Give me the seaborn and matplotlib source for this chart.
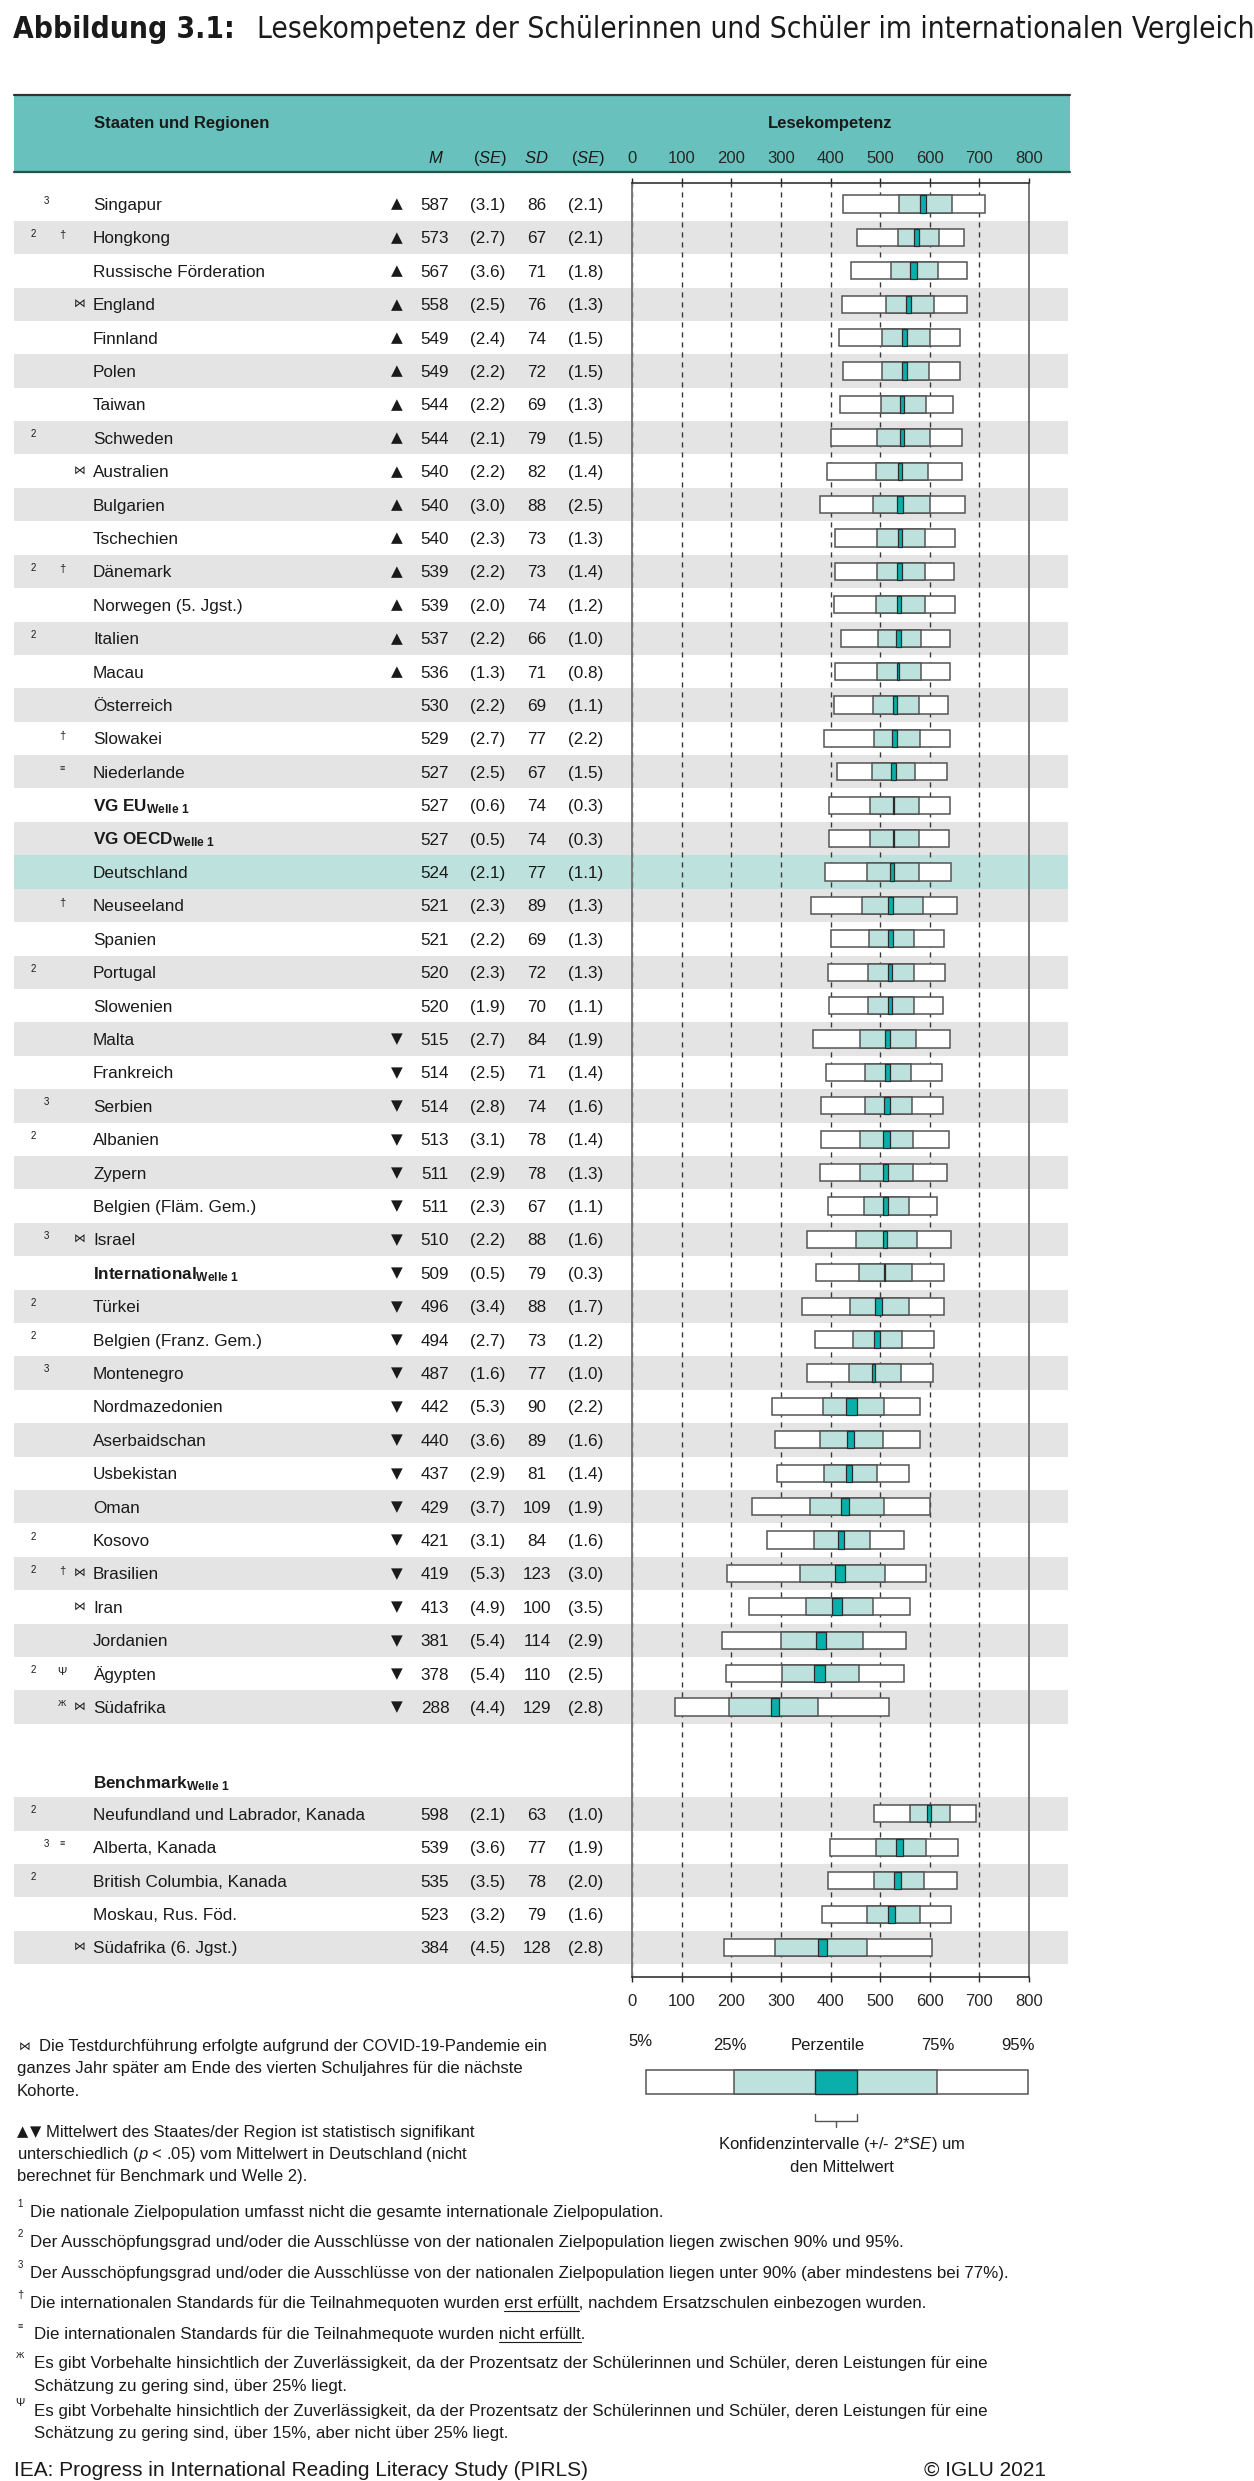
import numpy as np
import pandas as pd
import matplotlib
matplotlib.use("Agg")
import matplotlib.pyplot as plt
import seaborn as sns
from matplotlib import font_manager
from matplotlib.font_manager import FontProperties
from matplotlib.patches import Rectangle

# --- Daten: Staaten und Regionen (Welle 1) --- #
laender = ["Singapur", "Hongkong", "Russische Förderation", "England", "Finnland",
           "Polen", "Taiwan", "Schweden", "Australien", "Bulgarien", "Tschechien",
           "Dänemark", "Norwegen (5. Jgst.)", "Italien", "Macau", "Österreich",
           "Slowakei", "Niederlande", "VG EU", "VG OECD", "Deutschland",
           "Neuseeland", "Spanien", "Portugal", "Slowenien", "Malta", "Frankreich",
           "Serbien", "Albanien", "Zypern", "Belgien (Fläm. Gem.)", "Israel",
           "International", "Türkei", "Belgien (Franz. Gem.)", "Montenegro",
           "Nordmazedonien", "Aserbaidschan", "Usbekistan", "Oman", "Kosovo",
           "Brasilien", "Iran", "Jordanien", "Ägypten", "Südafrika"]
mittel = [587, 573, 567, 558, 549, 549, 544, 544, 540, 540, 540, 539, 539, 537, 536,
          530, 529, 527, 527, 527, 524, 521, 521, 520, 520, 515, 514, 514, 513, 511,
          511, 510, 509, 496, 494, 487, 442, 440, 437, 429, 421, 419, 413, 381, 378, 288]
se_m = [3.1, 2.7, 3.6, 2.5, 2.4, 2.2, 2.2, 2.1, 2.2, 3.0, 2.3, 2.2, 2.0, 2.2, 1.3,
        2.2, 2.7, 2.5, 0.6, 0.5, 2.1, 2.3, 2.2, 2.3, 1.9, 2.7, 2.5, 2.8, 3.1, 2.9,
        2.3, 2.2, 0.5, 3.4, 2.7, 1.6, 5.3, 3.6, 2.9, 3.7, 3.1, 5.3, 4.9, 5.4, 5.4, 4.4]
sd = [86, 67, 71, 76, 74, 72, 69, 79, 82, 88, 73, 73, 74, 66, 71, 69, 77, 67, 74, 74,
      77, 89, 69, 72, 70, 84, 71, 74, 78, 78, 67, 88, 79, 88, 73, 77, 90, 89, 81, 109,
      84, 123, 100, 114, 110, 129]
se_sd = [2.1, 2.1, 1.8, 1.3, 1.5, 1.5, 1.3, 1.5, 1.4, 2.5, 1.3, 1.4, 1.2, 1.0, 0.8,
         1.1, 2.2, 1.5, 0.3, 0.3, 1.1, 1.3, 1.3, 1.3, 1.1, 1.9, 1.4, 1.6, 1.4, 1.3,
         1.1, 1.6, 0.3, 1.7, 1.2, 1.0, 2.2, 1.6, 1.4, 1.9, 1.6, 3.0, 3.5, 2.9, 2.5, 2.8]
p5 = [426, 454, 441, 424, 417, 426, 420, 402, 393, 379, 409, 409, 408, 421, 409, 407,
      386, 413, 397, 397, 389, 360, 402, 394, 396, 364, 391, 381, 381, 378, 395, 352,
      370, 342, 368, 352, 282, 288, 292, 241, 272, 192, 235, 182, 190, 87]
p25 = [539, 536, 522, 512, 504, 504, 501, 493, 491, 486, 493, 493, 492, 495, 493, 486,
       487, 484, 480, 479, 474, 463, 477, 475, 475, 460, 469, 470, 460, 460, 467, 452,
       458, 440, 446, 438, 385, 378, 387, 358, 366, 338, 350, 301, 303, 195]
p75 = [645, 618, 616, 609, 601, 599, 592, 600, 596, 600, 591, 590, 590, 583, 583, 578,
       580, 571, 578, 578, 578, 586, 569, 569, 568, 573, 563, 565, 567, 566, 558, 574,
       564, 559, 545, 542, 507, 506, 493, 507, 479, 509, 485, 465, 457, 374]
p95 = [711, 670, 676, 676, 661, 661, 647, 664, 664, 672, 651, 649, 651, 640, 641, 636,
       640, 634, 640, 639, 642, 655, 628, 630, 627, 641, 624, 626, 638, 634, 614, 643,
       629, 628, 608, 606, 580, 580, 559, 600, 549, 592, 561, 553, 549, 517]
signifikanz = ["▲"] * 15 + [""] * 10 + ["▼"] * 21
fussnote_zahl = ["3", "2", "", "", "", "", "", "2", "", "", "", "2", "", "2", "", "",
                 "", "", "", "", "", "", "", "2", "", "", "", "3", "2", "", "", "3",
                 "", "2", "2", "3", "", "", "", "", "2", "2", "", "", "2", ""]
fussnote_zeichen = ["", "†", "", "", "", "", "", "", "", "", "", "†", "", "", "", "",
                    "†", "≡", "", "", "", "†", "", "", "", "", "", "", "", "", "", "",
                    "", "", "", "", "", "", "", "", "", "†", "", "", "Ψ", "Ж"]
covid = [3, 8, 31, 41, 42, 45]  # Zeilen mit ⋈
welle1 = ["VG EU", "VG OECD", "International"]

# --- Benchmark-Teilnehmer --- #
bench = ["Neufundland und Labrador, Kanada", "Alberta, Kanada",
         "British Columbia, Kanada", "Moskau, Rus. Föd.", "Südafrika (6. Jgst.)"]
bench_m = [598, 539, 535, 523, 384]
bench_se = [2.1, 3.6, 3.5, 3.2, 4.5]
bench_sd = [63, 77, 78, 79, 128]
bench_se_sd = [1.0, 1.9, 2.0, 1.6, 2.8]
bench_p5 = [487, 399, 395, 382, 185]
bench_p25 = [560, 491, 487, 473, 288]
bench_p75 = [641, 593, 588, 580, 474]
bench_p95 = [694, 656, 654, 642, 604]
bench_zahl = ["2", "3", "2", "", ""]
bench_zeichen = ["", "≡", "", "", ""]
bench_covid = [4]

achse = list(range(0, 801, 100))

# --- Tabelle zusammenbauen --- #
df = pd.DataFrame({
    "name": laender + bench,
    "m": mittel + bench_m, "se": se_m + bench_se,
    "sd": sd + bench_sd, "se_sd": se_sd + bench_se_sd,
    "p5": p5 + bench_p5, "p25": p25 + bench_p25,
    "p75": p75 + bench_p75, "p95": p95 + bench_p95,
    "sig": signifikanz + [""] * len(bench),
    "zahl": fussnote_zahl + bench_zahl,
    "zeichen": fussnote_zeichen + bench_zeichen,
})
df["row"] = list(np.arange(len(laender))) + list(48.2 + np.arange(len(bench)))
df["covid"] = [i in covid for i in range(len(laender))] + \
    [k in bench_covid for k in range(len(bench))]
df["grau"] = [i % 2 == 1 for i in range(len(laender))] + \
    [k % 2 == 0 for k in range(len(bench))]

# --- Stil --- #
sns.set_theme(style="white")
plt.rcParams["font.family"] = ["Liberation Sans", "DejaVu Sans"]
plt.rcParams["mathtext.fontset"] = "custom"
plt.rcParams["mathtext.rm"] = "Liberation Sans"
plt.rcParams["mathtext.it"] = "Liberation Sans:italic"
plt.rcParams["mathtext.bf"] = "Liberation Sans:bold"
plt.rcParams["text.color"] = "#1a1a1a"


# schmale Schrift für den Titel suchen (falls vorhanden)
def schmale_schrift(fett):
    for f in font_manager.fontManager.ttflist:
        fn = f.fname.lower()
        st = str(f.stretch).lower()
        if "serif" in fn or "mono" in fn or "oblique" in fn or "italic" in fn:
            continue
        if not ("condensed" in st or "narrow" in fn or "condensed" in fn):
            continue
        ist_fett = "bold" in fn or str(f.weight) in ("700", "bold")
        if ist_fett == fett:
            return FontProperties(fname=f.fname)
    return FontProperties(family="Liberation Sans",
                          weight="bold" if fett else "normal")


titel_fett = schmale_schrift(True)
titel_normal = schmale_schrift(False)

KOPF = "#69c1bd"
HELL = "#bde1dc"
DUNKEL = "#0aafab"
GRAU = "#e4e4e4"
FS = 12.3
FN = 12.2

W, H = 1254, 2481
Y0, DY = 204.0, 33.4


def py(r):
    return Y0 + DY * r


fig = plt.figure(figsize=(W / 100, H / 100), dpi=100)
bg = fig.add_axes([0, 0, 1, 1], zorder=0)
bg.set_xlim(0, W)
bg.set_ylim(H, 0)
bg.axis("off")
renderer = fig.canvas.get_renderer()


def breite(s, **kw):
    t = bg.text(0, 0, s, **kw)
    w = t.get_window_extent(renderer).width
    t.remove()
    return w


oben, unten = 183, 1977
ax = fig.add_axes([632 / W, 1 - unten / H, 397 / W, (unten - oben) / H], zorder=1)
ax.set_facecolor("none")

# Titel: Größe so, dass "Abbildung 3.1:" vor dem Untertitel endet
titel_fett.set_size(24)
groesse = 24 * 222 / breite("Abbildung 3.1:", fontproperties=titel_fett)
groesse = min(groesse, 25)
titel_fett.set_size(groesse)
titel_normal.set_size(groesse)
bg.text(13, 38, "Abbildung 3.1:", fontproperties=titel_fett, va="baseline")
bg.text(257, 38, "Lesekompetenz der Schülerinnen und Schüler im internationalen Vergleich.",
        fontproperties=titel_normal, va="baseline")

# Kopfzeile
bg.add_patch(Rectangle((14, 95), 1056, 77, color=KOPF, lw=0))
bg.plot([14, 1070], [94.5, 94.5], color="#333333", lw=1.6)
bg.plot([14, 1070], [172, 172], color="#2f4f4d", lw=1.6)
bg.text(94, 128, "Staaten und Regionen", fontsize=12, fontweight="bold", va="baseline")
bg.text(830, 128, "Lesekompetenz", fontsize=12, fontweight="bold", va="baseline",
        ha="center")
for x, s in [(436, r"$\mathit{M}$"), (490, r"($\mathit{SE}$)"),
             (536, r"$\mathit{SD}$"), (588, r"($\mathit{SE}$)")]:
    bg.text(x, 163, s, fontsize=12, ha="center", va="baseline")

# Zeilenstreifen
for _, z in df.iterrows():
    farbe = HELL if z["name"] == "Deutschland" else (GRAU if z["grau"] else None)
    if farbe:
        bg.add_patch(Rectangle((14, py(z.row) - DY / 2), 1054, DY, color=farbe, lw=0))

# Tabellentext
for _, z in df.iterrows():
    yb = py(z.row) + 6
    if z["name"] in welle1:
        name = r"$\mathbf{" + z["name"].replace(" ", r"\ ") + r"}_{\mathbf{Welle\ 1}}$"
    else:
        name = z["name"]
    bg.text(93, yb, name, fontsize=FS, va="baseline")
    if z.zahl:
        bg.text(33 if z.zahl == "2" else 46, py(z.row) - 0.5, z.zahl, fontsize=7,
                ha="center", va="baseline")
    if z.zeichen:
        bg.text(62, py(z.row) + (1 if z.zeichen in "†Ψ" else -1), z.zeichen,
                fontsize=8 if z.zeichen in "†Ψ" else 6.5, ha="center", va="baseline")
    if z.covid:
        bg.text(80, py(z.row), "⋈", fontsize=8.5, ha="center", va="center",
                family=["DejaVu Sans"])
    if z.sig:
        bg.text(397, py(z.row), z.sig, fontsize=11, ha="center", va="center",
                family=["DejaVu Sans"])
    bg.text(435, yb, f"{z.m:.0f}", fontsize=FS, ha="center", va="baseline")
    bg.text(488, yb, f"({z.se:.1f})", fontsize=FS, ha="center", va="baseline")
    bg.text(537, yb, f"{z.sd:.0f}", fontsize=FS, ha="center", va="baseline")
    bg.text(586, yb, f"({z.se_sd:.1f})", fontsize=FS, ha="center", va="baseline")

bg.text(93, py(47.25) + 6, r"$\mathbf{Benchmark}_{\mathbf{Welle\ 1}}$", fontsize=FS,
        va="baseline")

# --- Perzentilbänder --- #
h = 0.51
ax.barh(df.row, df.p95 - df.p5, left=df.p5, height=h, color="white",
        edgecolor="#555555", linewidth=1.1, zorder=3)
ax.barh(df.row, df.p75 - df.p25, left=df.p25, height=h, color=HELL,
        edgecolor="#555555", linewidth=1.1, zorder=4)
ax.barh(df.row, 4 * df.se, left=df.m - 2 * df.se, height=h, color=DUNKEL,
        edgecolor="#2b2b2b", linewidth=0.9, zorder=5)

ax.set_xlim(0, 800)
ax.set_ylim((unten - Y0) / DY, (oben - Y0) / DY)
ax.set_xticks(achse)
ax.set_xticklabels([str(a) for a in achse])
ax.set_yticks([])
ax.tick_params(axis="x", top=True, labeltop=True, bottom=True, labelbottom=True,
               direction="out", length=3.5, width=1.0, color="#222222",
               labelsize=12, pad=9)
ax.set_axisbelow(True)
ax.xaxis.grid(True, linestyle=(0, (3.7, 3.5)), color="#3a3a3a", linewidth=1.0)
for s in ["top", "bottom"]:
    ax.spines[s].set_color("#222222")
    ax.spines[s].set_linewidth(1.1)
for s in ["left", "right"]:
    ax.spines[s].set_color("#777777")
    ax.spines[s].set_linewidth(1.4)

# --- Legende rechts unten --- #
for x, y, s in [(640, 2042, "5%"), (730, 2045, "25%"), (828, 2045, "Perzentile"),
                (938, 2045, "75%"), (1018, 2045, "95%")]:
    bg.text(x, y, s, fontsize=12, ha="center", va="center")
bg.add_patch(Rectangle((646, 2070), 382, 24, facecolor="white", edgecolor="#555555", lw=1.1))
bg.add_patch(Rectangle((734, 2070), 203, 24, facecolor=HELL, edgecolor="#555555", lw=1.1))
bg.add_patch(Rectangle((815, 2070), 42, 24, facecolor=DUNKEL, edgecolor="#2b2b2b", lw=1.0))
bg.plot([815, 815, 857, 857], [2114, 2121, 2121, 2114], color="#555555", lw=1.0)
bg.plot([836, 836], [2121, 2127], color="#555555", lw=1.0)
bg.text(842, 2145, r"Konfidenzintervalle (+/- 2*$\mathit{SE}$) um", fontsize=12,
        ha="center", va="center")
bg.text(842, 2167, "den Mittelwert", fontsize=12, ha="center", va="center")

# --- Legende links --- #
bg.text(25, 2047, "⋈", fontsize=8.5, ha="center", va="center", family=["DejaVu Sans"])
bg.text(39, 2047, "Die Testdurchführung erfolgte aufgrund der COVID-19-Pandemie ein",
        fontsize=12, va="center")
bg.text(17, 2069, "ganzes Jahr später am Ende des vierten Schuljahres für die nächste",
        fontsize=12, va="center")
bg.text(17, 2091, "Kohorte.", fontsize=12, va="center")
bg.text(23, 2132, "▲", fontsize=10.5, ha="center", va="center", family=["DejaVu Sans"])
bg.text(36, 2132, "▼", fontsize=10.5, ha="center", va="center", family=["DejaVu Sans"])
bg.text(46, 2132, "Mittelwert des Staates/der Region ist statistisch signifikant",
        fontsize=12, va="center")
bg.text(17, 2154, r"unterschiedlich ($\mathit{p}$ < .05) vom Mittelwert in Deutschland (nicht",
        fontsize=12, va="center")
bg.text(17, 2176, "berechnet für Benchmark und Welle 2).", fontsize=12, va="center")


# --- Fußnoten --- #
def fussnote(y, zeichen, x0, teile, zs=7):
    bg.text(20, y - 5, zeichen, fontsize=zs, ha="center", va="baseline")
    voll = "".join(t for t, _ in teile)
    bg.text(x0, y + 5, voll, fontsize=FN, va="baseline")
    davor = ""
    for t, unter in teile:
        if unter:
            a = x0 + breite(davor + "n", fontsize=FN) - breite("n", fontsize=FN)
            b = x0 + breite(davor + t, fontsize=FN)
            bg.plot([a, b], [y + 7.5, y + 7.5], color="#1a1a1a", lw=0.8)
        davor += t


fussnote(2212, "1", 30, [("Die nationale Zielpopulation umfasst nicht die gesamte "
                          "internationale Zielpopulation.", False)])
fussnote(2242, "2", 30, [("Der Ausschöpfungsgrad und/oder die Ausschlüsse von der "
                          "nationalen Zielpopulation liegen zwischen 90% und 95%.", False)])
fussnote(2273, "3", 30, [("Der Ausschöpfungsgrad und/oder die Ausschlüsse von der "
                          "nationalen Zielpopulation liegen unter 90% (aber mindestens "
                          "bei 77%).", False)])
fussnote(2303, "†", 30, [("Die internationalen Standards für die Teilnahmequoten wurden ",
                          False), ("erst erfüllt", True),
                         (", nachdem Ersatzschulen einbezogen wurden.", False)], zs=8)
fussnote(2334, "≡", 34, [("Die internationalen Standards für die Teilnahmequote wurden ",
                          False), ("nicht erfüllt", True), (".", False)], zs=6.5)
fussnote(2363, "Ж", 34, [("Es gibt Vorbehalte hinsichtlich der Zuverlässigkeit, da der "
                          "Prozentsatz der Schülerinnen und Schüler, deren Leistungen "
                          "für eine", False)], zs=6.5)
bg.text(34, 2386 + 5, "Schätzung zu gering sind, über 25% liegt.", fontsize=FN,
        va="baseline")
fussnote(2411, "Ψ", 34, [("Es gibt Vorbehalte hinsichtlich der Zuverlässigkeit, da der "
                          "Prozentsatz der Schülerinnen und Schüler, deren Leistungen "
                          "für eine", False)], zs=8)
bg.text(34, 2433 + 5, "Schätzung zu gering sind, über 15%, aber nicht über 25% liegt.",
        fontsize=FN, va="baseline")

bg.text(14, 2470, "IEA: Progress in International Reading Literacy Study (PIRLS)",
        fontsize=15, va="center")
bg.text(924, 2470, "© IGLU 2021", fontsize=15, va="center")

fig.savefig("out.png", dpi=100)
